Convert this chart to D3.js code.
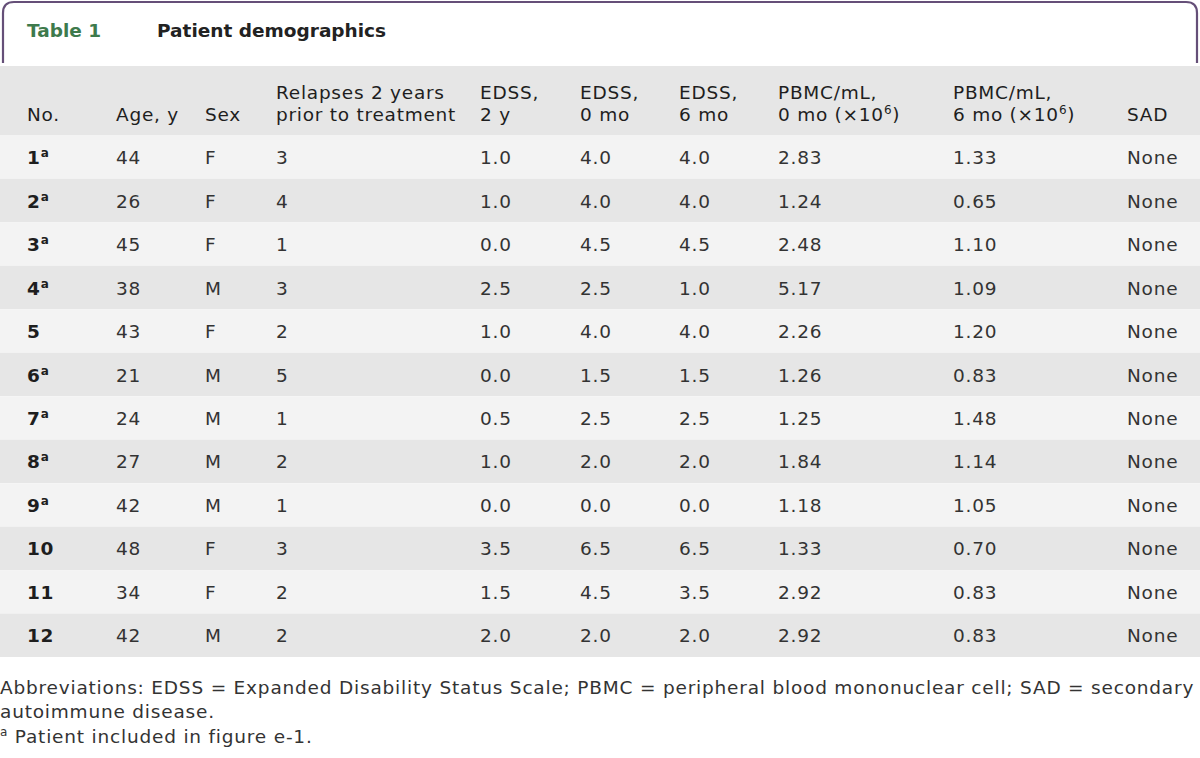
<!DOCTYPE html>
<html><head><meta charset="utf-8">
<script src="https://cdn.jsdelivr.net/npm/d3@7"></script>
<style>html,body{margin:0;padding:0;background:#fff;}svg{display:block;}</style>
</head><body>
<div id="chart"></div>
<script>
// ---- data ----
const patientNo   = ["1","2","3","4","5","6","7","8","9","10","11","12"];
const inFigure    = [true,true,true,true,false,true,true,true,true,false,false,false];
const ages        = [44,26,45,38,43,21,24,27,42,48,34,42];
const sexes       = ["F","F","F","M","F","M","M","M","M","F","F","M"];
const relapses    = [3,4,1,3,2,5,1,2,1,3,2,2];
const edss2y      = ["1.0","1.0","0.0","2.5","1.0","0.0","0.5","1.0","0.0","3.5","1.5","2.0"];
const edss0mo     = ["4.0","4.0","4.5","2.5","4.0","1.5","2.5","2.0","0.0","6.5","4.5","2.0"];
const edss6mo     = ["4.0","4.0","4.5","1.0","4.0","1.5","2.5","2.0","0.0","6.5","3.5","2.0"];
const pbmc0mo     = ["2.83","1.24","2.48","5.17","2.26","1.26","1.25","1.84","1.18","1.33","2.92","2.92"];
const pbmc6mo     = ["1.33","0.65","1.10","1.09","1.20","0.83","1.48","1.14","1.05","0.70","0.83","0.83"];
const sad         = ["None","None","None","None","None","None","None","None","None","None","None","None"];
const columnKeys  = ["no","age","sex","rel","e2","e0","e6","p0","p6","sad"];
const headerLines = [
  [null, "No."],
  [null, "Age, y"],
  [null, "Sex"],
  ["Relapses 2 years", "prior to treatment"],
  ["EDSS,", "2 y"],
  ["EDSS,", "0 mo"],
  ["EDSS,", "6 mo"],
  ["PBMC/mL,", "0 mo (×10|6|)"],
  ["PBMC/mL,", "6 mo (×10|6|)"],
  [null, "SAD"]
];
const tableLabel  = "Table 1";
const tableTitle  = "Patient demographics";
const footnotes   = [
  "Abbreviations: EDSS = Expanded Disability Status Scale; PBMC = peripheral blood mononuclear cell; SAD = secondary",
  "autoimmune disease.",
  "|a| Patient included in figure e-1."
];

// ---- layout ----
const W = 1200, H = 758;
const FONT = "'DejaVu Sans', sans-serif";
const BODY = 18.5, LS = 0.75;
const svg = d3.select("#chart").append("svg").attr("width", W).attr("height", H)
  .style("font-family", FONT);

const colX = d3.scaleOrdinal().domain(columnKeys)
  .range([27,116,205,276,480,580,679,778,953,1127]);
const rowY = d3.scaleBand().domain(d3.range(patientNo.length)).range([135.5, 657]).paddingInner(0);

// title box
svg.append("path")
  .attr("d", "M3,63 V13 Q3,2 14,2 H1186 Q1197,2 1197,13 V63")
  .attr("fill", "none").attr("stroke", "#654f78").attr("stroke-width", 2.2);
svg.append("text").attr("x", 27).attr("y", 37).attr("font-size", 18.5).attr("font-weight", "bold")
  .attr("fill", "#3e7a4c").text(tableLabel);
svg.append("text").attr("x", 157).attr("y", 37).attr("font-size", 18.5).attr("font-weight", "bold")
  .attr("fill", "#222").text(tableTitle);

// header band
svg.append("rect").attr("x", 0).attr("y", 66).attr("width", W).attr("height", 69.5).attr("fill", "#e6e6e6");

function addRich(sel, str, supSize) {
  const parts = str.split("|");
  let back = 0;
  parts.forEach((p, i) => {
    if (!p) return;
    if (i % 2 === 1) {
      sel.append("tspan").attr("font-size", supSize).attr("dy", -7 + back).text(p);
      back = 7;
    } else {
      const t = sel.append("tspan").text(p);
      if (back) { t.attr("dy", back); back = 0; }
    }
  });
}

const hdr = svg.append("g").attr("fill", "#1e1e1e").attr("font-size", BODY).attr("letter-spacing", LS);
headerLines.forEach((lines, i) => {
  const x = colX(columnKeys[i]);
  if (lines[0]) hdr.append("text").attr("x", x).attr("y", 99).text(lines[0]);
  const t = hdr.append("text").attr("x", x).attr("y", 121);
  addRich(t, lines[1], 12);
});

// rows
const rows = patientNo.map((n, i) => ({i, n, fig: inFigure[i], age: ages[i], sex: sexes[i], rel: relapses[i],
  e2: edss2y[i], e0: edss0mo[i], e6: edss6mo[i], p0: pbmc0mo[i], p6: pbmc6mo[i], sad: sad[i]}));

const rg = svg.append("g").attr("letter-spacing", LS).selectAll("g").data(rows).join("g")
  .attr("transform", d => `translate(0,${rowY(d.i)})`);
rg.append("rect").attr("x", 0).attr("width", W).attr("height", rowY.bandwidth())
  .attr("fill", d => d.i % 2 === 0 ? "#f3f3f3" : "#e6e6e6");
const by = rowY.bandwidth() / 2 + 7;
const noT = rg.append("text").attr("x", colX("no")).attr("y", by).attr("font-size", BODY)
  .attr("font-weight", "bold").attr("fill", "#1e1e1e");
noT.append("tspan").text(d => d.n);
noT.filter(d => d.fig).append("tspan").attr("font-size", 12).attr("dy", -7).attr("font-weight", "bold").text("a");
["age","sex","rel","e2","e0","e6","p0","p6","sad"].forEach(k => {
  rg.append("text").attr("x", colX(k)).attr("y", by).attr("font-size", BODY).attr("fill", "#333")
    .text(d => d[k]);
});

// footnotes
const fg = svg.append("g").attr("fill", "#333").attr("font-size", BODY).attr("letter-spacing", 0.8);
const fy = [694, 718, 743];
footnotes.forEach((f, i) => {
  const t = fg.append("text").attr("x", 0).attr("y", fy[i]);
  addRich(t, f, 12);
  if (i === 0) {
    const len = t.node().getComputedTextLength();
    if (len > 1196) t.attr("textLength", 1196).attr("lengthAdjust", "spacingAndGlyphs");
  }
});
</script>
</body></html>
